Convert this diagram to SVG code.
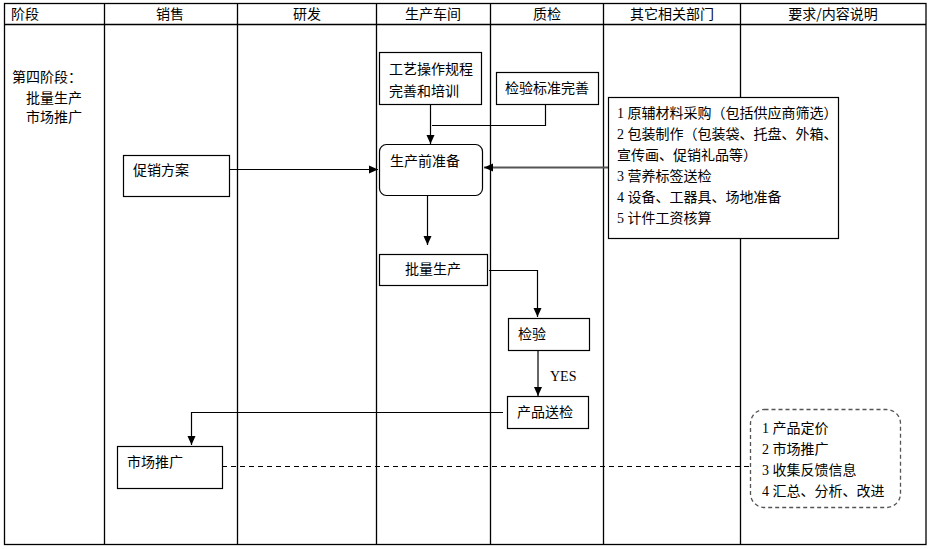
<svg xmlns="http://www.w3.org/2000/svg" width="930" height="549" viewBox="0 0 930 549">
<defs>
<style>
.t{font-family:"Liberation Serif","Noto Sans CJK SC",sans-serif;font-size:14px;fill:#000}
.h{font-family:"Noto Sans CJK SC",sans-serif;font-size:14px;fill:#000}
.box{fill:#fff;stroke:#000;stroke-width:1.2}
.ln{fill:none;stroke:#000;stroke-width:1.2}
.gr{fill:none;stroke:#555;stroke-width:1.8}
.grid{fill:none;stroke:#000;stroke-width:1.3}
</style>
<marker id="ar" markerWidth="10" markerHeight="10" refX="9" refY="5" orient="auto" markerUnits="userSpaceOnUse">
<path d="M0,1 L9,5 L0,9 Z" fill="#000"/>
</marker>
</defs>
<rect width="930" height="549" fill="#fff"/>
<g id="grid">
<rect class="grid" x="4.5" y="3.5" width="921.5" height="541"/>
<line class="grid" x1="4.5" y1="24.5" x2="926" y2="24.5"/>
<line class="grid" x1="104.5" y1="3.5" x2="104.5" y2="544.5"/>
<line class="grid" x1="237.5" y1="3.5" x2="237.5" y2="544.5"/>
<line class="grid" x1="376.5" y1="3.5" x2="376.5" y2="544.5"/>
<line class="grid" x1="490.5" y1="3.5" x2="490.5" y2="544.5"/>
<line class="grid" x1="603.5" y1="3.5" x2="603.5" y2="544.5"/>
<line class="grid" x1="740.5" y1="3.5" x2="740.5" y2="544.5"/>
<text class="h" x="11" y="19">阶段</text>
<text class="h" x="170" y="19" text-anchor="middle">销售</text>
<text class="h" x="307" y="19" text-anchor="middle">研发</text>
<text class="h" x="433" y="19" text-anchor="middle">生产车间</text>
<text class="h" x="547" y="19" text-anchor="middle">质检</text>
<text class="h" x="672" y="19" text-anchor="middle">其它相关部门</text>
<text class="h" x="833" y="19" text-anchor="middle">要求/内容说明</text>
</g>
<g id="stage">
<text class="h" x="12" y="82">第四阶段：</text>
<text class="h" x="26" y="103">批量生产</text>
<text class="h" x="26" y="122">市场推广</text>
</g>
<g id="connectors">
<line class="ln" x1="229" y1="169.5" x2="378" y2="169.5" marker-end="url(#ar)"/>
<line class="ln" x1="430.5" y1="104" x2="430.5" y2="144" marker-end="url(#ar)"/>
<polyline class="ln" points="545.5,104 545.5,125.5 432,125.5"/>
<line class="gr" x1="608" y1="167.5" x2="484" y2="167.5" marker-end="url(#ar)"/>
<line class="ln" x1="427.5" y1="195" x2="427.5" y2="245" marker-end="url(#ar)"/>
<polyline class="ln" points="489,270.5 537.5,270.5 537.5,317" marker-end="url(#ar)"/>
<line class="gr" x1="538" y1="350" x2="538" y2="396" marker-end="url(#ar)"/>
<polyline class="ln" points="503,412.5 191.5,412.5 191.5,445" marker-end="url(#ar)"/>
<line class="ln" x1="222" y1="466.5" x2="750" y2="466.5" stroke-dasharray="5,4"/>
<text class="t" x="550" y="381" style="font-family:'Liberation Serif',serif">YES</text>
</g>
<g id="n-cuxiao">
<rect class="box" x="123.5" y="155.5" width="106" height="41"/>
<text class="h" x="133" y="175">促销方案</text>
</g>
<g id="n-gongyi">
<rect class="box" x="379.5" y="52.5" width="102" height="52"/>
<text class="h" x="389" y="74">工艺操作规程</text>
<text class="h" x="389" y="96">完善和培训</text>
</g>
<g id="n-biaozhun">
<rect class="box" x="496.5" y="72.5" width="102" height="32"/>
<text class="h" x="547" y="93" text-anchor="middle">检验标准完善</text>
</g>
<g id="n-zhunbei">
<rect class="box" x="379.5" y="144.5" width="103" height="51" rx="7" ry="7"/>
<text class="h" x="390" y="166">生产前准备</text>
</g>
<g id="n-other">
<rect class="box" x="608.5" y="97.5" width="230" height="141"/>
<text class="t" x="617" y="118">1 原辅材料采购（包括供应商筛选）</text>
<text class="t" x="617" y="139">2 包装制作（包装袋、托盘、外箱、</text>
<text class="t" x="617" y="160">宣传画、促销礼品等）</text>
<text class="t" x="617" y="181">3 营养标签送检</text>
<text class="t" x="617" y="202">4 设备、工器具、场地准备</text>
<text class="t" x="617" y="223">5 计件工资核算</text>
</g>
<g id="n-piliang">
<rect class="box" x="379.5" y="254.5" width="108" height="31"/>
<text class="h" x="405" y="274">批量生产</text>
</g>
<g id="n-jianyan">
<rect class="box" x="508.5" y="318.5" width="81" height="32"/>
<text class="h" x="518" y="339">检验</text>
</g>
<g id="n-songjian">
<rect class="box" x="507.5" y="396.5" width="81" height="32"/>
<text class="h" x="517" y="417">产品送检</text>
</g>
<g id="n-tuiguang">
<rect class="box" x="117.5" y="446.5" width="105" height="42"/>
<text class="h" x="127" y="467">市场推广</text>
</g>
<g id="n-yaoqiu">
<rect x="750.5" y="409.5" width="150" height="98" rx="14" ry="14" fill="#fff" stroke="#555" stroke-width="1.3" stroke-dasharray="4,3"/>
<text class="t" x="762" y="433">1 产品定价</text>
<text class="t" x="762" y="454">2 市场推广</text>
<text class="t" x="762" y="475">3 收集反馈信息</text>
<text class="t" x="762" y="496">4 汇总、分析、改进</text>
</g>
</svg>
